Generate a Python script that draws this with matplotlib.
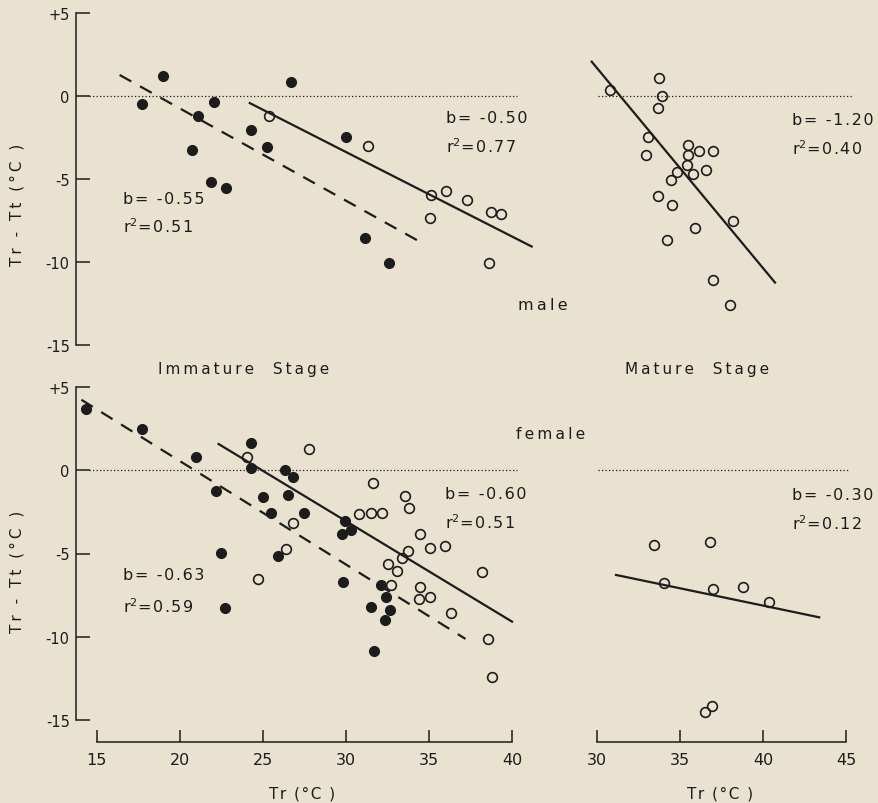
import matplotlib
matplotlib.use("Agg")
import matplotlib.pyplot as plt

# immature stage, male: solid = filled dots, open = open circles
im_m_fill_x = [17.73, 19.0, 21.12, 22.07, 20.76, 21.89, 22.75, 24.30, 25.24, 26.68, 30.01, 31.15, 32.58]
im_m_fill_y = [-0.48, 1.22, -1.19, -0.34, -3.23, -5.18, -5.54, -2.05, -3.05, 0.86, -2.49, -8.51, -10.06]
im_m_open_x = [25.39, 31.30, 35.11, 35.05, 36.02, 37.31, 38.74, 39.34, 38.59]
im_m_open_y = [-1.22, -2.99, -5.96, -7.33, -5.70, -6.25, -6.95, -7.07, -10.02]
im_m_dash_x, im_m_dash_y = [16.38, 34.73], [1.27, -8.92]
im_m_line_x, im_m_line_y = [24.21, 41.17], [-0.42, -9.05]

# mature stage, male
ma_m_x = [30.80, 33.75, 33.95, 33.71, 33.07, 32.97, 35.47, 36.17, 37.02, 35.51, 35.45,
          34.85, 35.81, 36.58, 34.45, 33.69, 34.51, 38.18, 35.91, 34.25, 37.02, 38.02]
ma_m_y = [0.36, 1.06, 0.0, -0.70, -2.47, -3.55, -2.93, -3.29, -3.29, -3.57, -4.16,
          -4.56, -4.66, -4.44, -5.06, -6.00, -6.57, -7.51, -7.91, -8.66, -11.08, -12.59]
ma_m_line_x, ma_m_line_y = [29.70, 40.73], [2.07, -11.22]

# immature stage, female
im_f_fill_x = [14.34, 17.71, 21.0, 22.18, 22.45, 22.71, 24.28, 24.28, 25.03, 25.50, 25.93, 26.32, 26.83,
               26.49, 27.50, 29.73, 29.96, 30.33, 29.79, 32.11, 31.51, 32.43, 32.65, 32.33, 31.68]
im_f_fill_y = [3.69, 2.49, 0.83, -1.26, -4.99, -8.26, 1.65, 0.14, -1.58, -2.56, -5.13, 0.02, -0.38,
               -1.46, -2.56, -3.83, -3.03, -3.57, -6.74, -6.88, -8.20, -7.64, -8.40, -9.00, -10.88]
im_f_open_x = [24.06, 27.75, 26.79, 26.40, 24.73, 31.60, 30.76, 31.51, 32.15, 33.57, 33.79, 34.47, 33.72,
               33.38, 35.05, 35.97, 32.54, 33.08, 32.73, 34.47, 34.41, 35.05, 36.30, 38.21, 38.55, 38.81]
im_f_open_y = [0.79, 1.29, -3.18, -4.73, -6.53, -0.76, -2.60, -2.54, -2.56, -1.52, -2.26, -3.83, -4.83,
               -5.29, -4.65, -4.55, -5.63, -6.07, -6.90, -7.03, -7.74, -7.60, -8.58, -6.13, -10.14, -12.41]
im_f_dash_x, im_f_dash_y = [14.08, 37.19], [4.25, -10.14]
im_f_line_x, im_f_line_y = [22.33, 39.99], [1.59, -9.10]

# mature stage, female
ma_f_x = [33.47, 36.82, 34.05, 36.98, 38.80, 40.35, 36.52, 36.92]
ma_f_y = [-4.47, -4.33, -6.78, -7.12, -7.00, -7.90, -14.56, -14.16]
ma_f_line_x, ma_f_line_y = [31.16, 43.39], [-6.29, -8.84]

y_ticks = [-15, -10, -5, 0, 5]
y_labels = ['-15', '-10', '-5', '0', '+5']

BG = '#e9e2d0'
INK = '#1c1c1c'
W, H = 879, 804
S = 16.62  # px per unit on both axes
THIN, HAIR = '\u2009', '\u200a'

fig = plt.figure(figsize=(W / 100, H / 100), dpi=100, facecolor=BG)


def spaced(s, sp=THIN):
    return sp.join(s)


def panel(x0, x1, y0, y1, xv, xp, yv, yp):
    ax = fig.add_axes([x0 / W, 1 - y1 / H, (x1 - x0) / W, (y1 - y0) / H])
    ax.set_xlim(xv + (x0 - xp) / S, xv + (x1 - xp) / S)
    ax.set_ylim(yv - (y1 - yp) / S, yv - (y0 - yp) / S)
    ax.patch.set_visible(False)
    for s in ax.spines.values():
        s.set_visible(False)
    ax.set_xticks([])
    ax.set_yticks([])
    return ax


def yaxis(ax):
    ax.spines['left'].set_visible(True)
    ax.spines['left'].set_position(('data', 13.75))
    ax.spines['left'].set_bounds(-15, 5)
    ax.spines['left'].set_linewidth(1.1)
    ax.spines['left'].set_color(INK)
    ax.set_yticks(y_ticks, y_labels)
    ax.tick_params(axis='y', direction='in', length=10, width=1.1, pad=4.5,
                   labelsize=10.5, colors=INK)


def xaxis(ax, lo, hi):
    ax.spines['bottom'].set_visible(True)
    ax.spines['bottom'].set_position(('data', -16.34))
    ax.spines['bottom'].set_bounds(lo, hi)
    ax.spines['bottom'].set_linewidth(1.1)
    ax.spines['bottom'].set_color(INK)
    ax.set_xticks(range(lo, hi + 1, 5))
    ax.tick_params(axis='x', direction='in', length=9, width=1.1, pad=7,
                   labelsize=11.5, colors=INK)


def zero(ax, lo, hi):
    ax.plot([lo, hi], [0, 0], color=INK, lw=0.9, ls=(0, (1, 1.8)))


def filled(ax, x, y):
    ax.plot(x, y, 'o', ms=7, color=INK, clip_on=False)


def hollow(ax, x, y):
    ax.plot(x, y, 'o', ms=7, mfc='none', mec=INK, mew=1.2, clip_on=False)


def solid(ax, x, y):
    ax.plot(x, y, color=INK, lw=1.6)


def dashed(ax, x, y):
    ax.plot(x, y, color=INK, lw=1.6, ls=(0, (6, 4.5)))


def note(ax, x, y, b, r2, gap=1.75):
    ax.text(x, y, spaced('b= ' + b, HAIR), fontsize=11.5, color=INK, va='center')
    ax.text(x, y - gap, 'r$^2$' + spaced('=' + r2, HAIR), fontsize=11.5, color=INK, va='center')


def ftext(x, y, s, **kw):
    fig.text(x / W, 1 - y / H, s, color=INK, **kw)


# top left
ax1 = panel(60, 570, 0, 380, 15, 96.7, 5, 14)
yaxis(ax1)
zero(ax1, 14.55, 40.3)
dashed(ax1, im_m_dash_x, im_m_dash_y)
solid(ax1, im_m_line_x, im_m_line_y)
filled(ax1, im_m_fill_x, im_m_fill_y)
hollow(ax1, im_m_open_x, im_m_open_y)
note(ax1, 36.02, -1.26, '-0.50', '0.77')
note(ax1, 16.59, -6.19, '-0.55', '0.51', gap=1.63)

# top right
ax2 = panel(570, 879, 0, 380, 30, 596.7, 5, 14)
zero(ax2, 30.05, 45.35)
solid(ax2, ma_m_line_x, ma_m_line_y)
hollow(ax2, ma_m_x, ma_m_y)
note(ax2, 41.75, -1.38, '-1.20', '0.40')

# bottom left
ax3 = panel(60, 570, 380, 804, 15, 96.7, 5, 388.3)
yaxis(ax3)
xaxis(ax3, 15, 40)
zero(ax3, 14.55, 40.3)
dashed(ax3, im_f_dash_x, im_f_dash_y)
solid(ax3, im_f_line_x, im_f_line_y)
filled(ax3, im_f_fill_x, im_f_fill_y)
hollow(ax3, im_f_open_x, im_f_open_y)
note(ax3, 35.93, -1.36, '-0.60', '0.51')
note(ax3, 16.59, -6.29, '-0.63', '0.59', gap=1.85)

# bottom right
ax4 = panel(570, 879, 380, 804, 30, 596.7, 5, 388.3)
xaxis(ax4, 30, 45)
zero(ax4, 30.05, 45.2)
solid(ax4, ma_f_line_x, ma_f_line_y)
hollow(ax4, ma_f_x, ma_f_y)
note(ax4, 41.75, -1.42, '-0.30', '0.12')

# labels
ylab = spaced('Tr - Tt (°C )')
xlab = spaced('Tr (°C )', HAIR)
ftext(17, 205, ylab, rotation=90, ha='center', va='center', fontsize=11)
ftext(17, 572, ylab, rotation=90, ha='center', va='center', fontsize=11)
ftext(302, 794, xlab, ha='center', va='center', fontsize=11)
ftext(720, 794, xlab, ha='center', va='center', fontsize=11)
ftext(244, 370, spaced('Immature  Stage'), ha='center', va='center', fontsize=11)
ftext(697, 370, spaced('Mature  Stage'), ha='center', va='center', fontsize=11)
ftext(518, 306, spaced('male'), ha='left', va='center', fontsize=11.5)
ftext(516, 435, spaced('female'), ha='left', va='center', fontsize=11.2)

fig.savefig('out.png', dpi=100, facecolor=BG)
